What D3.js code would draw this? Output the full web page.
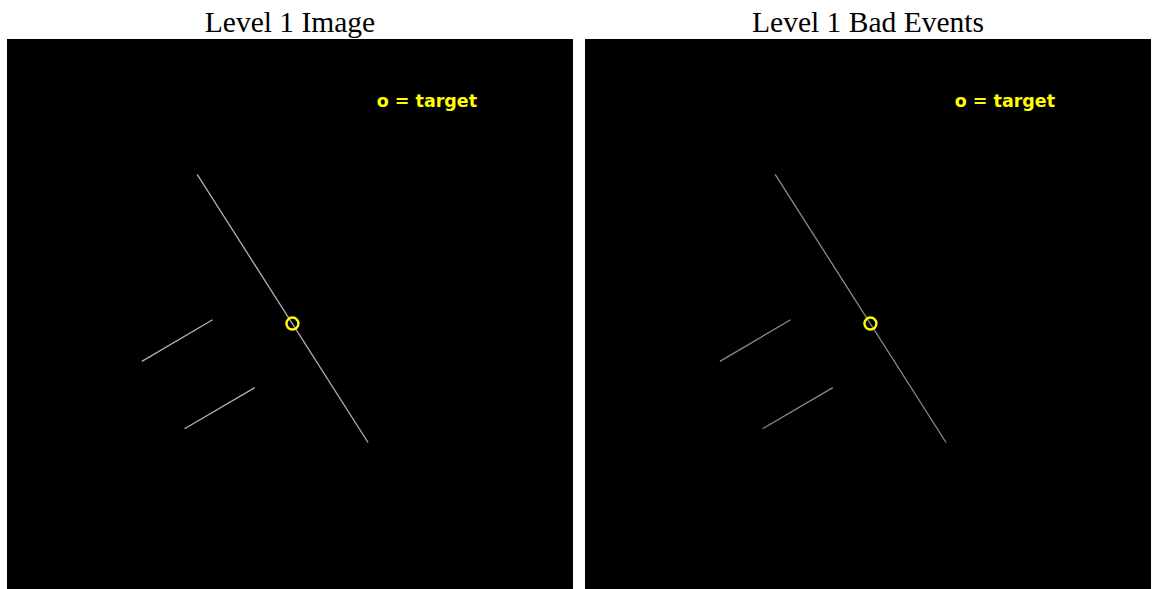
<!DOCTYPE html>
<html>
<head>
<meta charset="utf-8">
<script src="https://cdn.jsdelivr.net/npm/d3@7"></script>
<style>
  body { margin: 0; background: #fff; }
</style>
</head>
<body>
<div id="chart"></div>
<script>
// Panel titles
const panelTitles = ["Level 1 Image", "Level 1 Bad Events"];

// Track segments in image pixel coords (0..256): [x1, y1, x2, y2]
const tracks = [
  [86.0, 61.2, 163.3, 182.5],
  [61.0, 145.8, 93.0, 127.0],
  [80.3, 176.3, 112.1, 157.7]
];

// Target position (image pixel coords)
const target = [129.1, 128.7];

// Legend label
const legendText = "o = target";
const legendPos = [167.2, 30.8];

// Line brightness per panel
const trackColors = ["#b0b0b0", "#8a8a8a"];

var width = 1152, height = 589;
var panelW = 566, panelTop = 39;
var panelLeft = [7, 585];

var svg = d3.select("#chart")
  .append("svg")
    .attr("width", width)
    .attr("height", height);

panelTitles.forEach(function(title, i) {
  // Image scale for this panel
  var x = d3.scaleLinear().domain([0, 256]).range([panelLeft[i], panelLeft[i] + panelW]);
  var y = d3.scaleLinear().domain([0, 256]).range([panelTop, panelTop + panelW]);

  // Title
  svg.append("text")
    .attr("x", panelLeft[i] + panelW / 2)
    .attr("y", 32)
    .attr("text-anchor", "middle")
    .attr("font-family", "Liberation Serif, Times New Roman, serif")
    .attr("font-size", 29.5)
    .attr("fill", "#000")
    .text(title);

  // Black image background
  svg.append("rect")
    .attr("x", x(0))
    .attr("y", y(0))
    .attr("width", x(256) - x(0))
    .attr("height", y(256) - y(0))
    .attr("fill", "#000");

  // Tracks
  svg.selectAll(".track" + i)
    .data(tracks)
    .enter()
    .append("line")
      .attr("class", "track" + i)
      .attr("x1", function(d) { return x(d[0]); })
      .attr("y1", function(d) { return y(d[1]); })
      .attr("x2", function(d) { return x(d[2]); })
      .attr("y2", function(d) { return y(d[3]); })
      .attr("stroke", trackColors[i])
      .attr("stroke-width", 1.3);

  // Target marker
  svg.append("circle")
    .attr("cx", x(target[0]))
    .attr("cy", y(target[1]))
    .attr("r", 6)
    .attr("fill", "none")
    .attr("stroke", "#ffff00")
    .attr("stroke-width", 2.4);

  // Legend
  svg.append("text")
    .attr("x", x(legendPos[0]))
    .attr("y", y(legendPos[1]))
    .attr("font-family", "DejaVu Sans, sans-serif")
    .attr("font-weight", "bold")
    .attr("font-size", 17.5)
    .attr("fill", "#ffff00")
    .text(legendText);
});
</script>
</body>
</html>
